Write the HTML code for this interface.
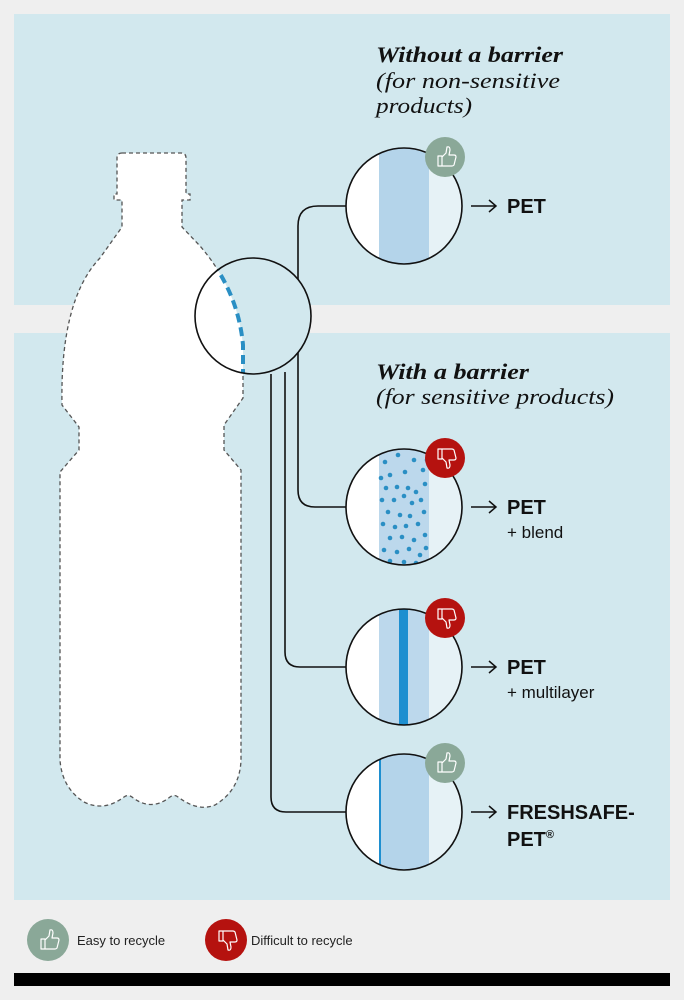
<!DOCTYPE html>
<html><head><meta charset="utf-8"><style>
html,body{margin:0;padding:0;background:#efefef;}
svg{display:block}
.h{font-family:"Liberation Serif",serif;font-style:italic;font-size:22px;fill:#111}
.p{font-family:"Liberation Sans",sans-serif;font-weight:bold;font-size:20px;fill:#111}
.s{font-family:"Liberation Sans",sans-serif;font-size:17px;fill:#111}
.l{font-family:"Liberation Sans",sans-serif;font-size:13px;fill:#222}
</style></head><body>
<svg width="684" height="1000" viewBox="0 0 684 1000" xmlns="http://www.w3.org/2000/svg">
<defs>
<path id="bottle" d="M122,153 H181 Q186,153 186,158 V194 H190 V200 H182 V227 L200,246 Q238,290 243,345 L243,398 L224,425 V450 L241,470 V760 Q240,790 215,805 Q198,812 178,797 Q174,794 170,797 Q151,812 132,797 Q128,794 124,797 Q104,812 84,802 Q62,788 60,760 V472 L79,450 V427 L62,405 Q60,300 100,258 L122,227 V200 H114 V194 H117 V158 Q117,153 122,153 Z"/>
<clipPath id="big"><circle cx="253" cy="316" r="58"/></clipPath>
<clipPath id="c1"><circle cx="404" cy="206" r="58"/></clipPath>
<clipPath id="c2"><circle cx="404" cy="507" r="58"/></clipPath>
<clipPath id="c3"><circle cx="404" cy="667" r="58"/></clipPath>
<clipPath id="c4"><circle cx="404" cy="812" r="58"/></clipPath>
<g id="up"><path d="M-7,-1 h4 v10 h-4 z M-3,0 l4,-4 l1,-6 q3,-1 3,3 l-1,5 h5 q2,0 2,2 l-2,8 q-1,1 -2,1 h-10" fill="none" stroke="#fff" stroke-width="1.2" stroke-linejoin="round"/></g>
<g id="down"><path d="M-7,-9 h4 v10 h-4 z M-3,0 l4,4 l1,6 q3,1 3,-3 l-1,-5 h5 q2,0 2,-2 l-2,-8 q-1,-1 -2,-1 h-10" fill="none" stroke="#fff" stroke-width="1.2" stroke-linejoin="round"/></g>
</defs>
<rect x="14" y="14" width="656" height="291" fill="#d2e8ee"/>
<rect x="14" y="333" width="656" height="567" fill="#d2e8ee"/>
<rect x="14" y="973" width="656" height="13" fill="#000"/>

<use href="#bottle" fill="#fff" stroke="#555" stroke-width="1.3" stroke-dasharray="4,3"/>

<g fill="none" stroke="#111" stroke-width="1.6">
<path d="M298,370 V226 Q298,206 318,206 H346"/>
<path d="M298,370 V490 Q298,507 315,507 H346"/>
<path d="M285,372 V652 Q285,667 300,667 H346"/>
<path d="M271,374 V797 Q271,812 286,812 H346"/>
</g>

<circle cx="253" cy="316" r="58" fill="#d2e8ee"/>
<g clip-path="url(#big)"><use href="#bottle" fill="#fff"/><use href="#bottle" fill="none" stroke="#2a8fc4" stroke-width="4" stroke-dasharray="9,5"/></g>
<circle cx="253" cy="316" r="58" fill="none" stroke="#111" stroke-width="1.6"/>

<g clip-path="url(#c1)"><rect x="340" y="140" width="130" height="130" fill="#fff"/><rect x="379" y="140" width="50" height="130" fill="#b4d4ea"/><rect x="429" y="140" width="40" height="130" fill="#e6f2f6"/></g>
<circle cx="404" cy="206" r="58" fill="none" stroke="#111" stroke-width="1.6"/>

<g clip-path="url(#c2)"><rect x="340" y="440" width="130" height="130" fill="#fff"/><rect x="379" y="440" width="50" height="130" fill="#bcd8ec"/><rect x="429" y="440" width="40" height="130" fill="#e6f2f6"/>
<g fill="#2a8fc4">
<circle cx="385" cy="462" r="2.3"/><circle cx="398" cy="455" r="2.3"/><circle cx="414" cy="460" r="2.3"/><circle cx="423" cy="470" r="2.3"/><circle cx="390" cy="475" r="2.3"/><circle cx="405" cy="472" r="2.3"/><circle cx="386" cy="488" r="2.3"/><circle cx="397" cy="487" r="2.3"/><circle cx="408" cy="488" r="2.3"/><circle cx="416" cy="492" r="2.3"/><circle cx="425" cy="484" r="2.3"/><circle cx="382" cy="500" r="2.3"/><circle cx="394" cy="500" r="2.3"/><circle cx="404" cy="496" r="2.3"/><circle cx="412" cy="503" r="2.3"/><circle cx="421" cy="500" r="2.3"/><circle cx="388" cy="512" r="2.3"/><circle cx="400" cy="515" r="2.3"/><circle cx="410" cy="516" r="2.3"/><circle cx="424" cy="512" r="2.3"/><circle cx="383" cy="524" r="2.3"/><circle cx="395" cy="527" r="2.3"/><circle cx="406" cy="526" r="2.3"/><circle cx="418" cy="524" r="2.3"/><circle cx="390" cy="538" r="2.3"/><circle cx="402" cy="537" r="2.3"/><circle cx="414" cy="540" r="2.3"/><circle cx="425" cy="535" r="2.3"/><circle cx="384" cy="550" r="2.3"/><circle cx="397" cy="552" r="2.3"/><circle cx="409" cy="549" r="2.3"/><circle cx="420" cy="555" r="2.3"/><circle cx="390" cy="561" r="2.3"/><circle cx="404" cy="562" r="2.3"/><circle cx="416" cy="563" r="2.3"/><circle cx="427" cy="460" r="2.3"/><circle cx="381" cy="478" r="2.3"/><circle cx="426" cy="548" r="2.3"/>
</g></g>
<circle cx="404" cy="507" r="58" fill="none" stroke="#111" stroke-width="1.6"/>

<g clip-path="url(#c3)"><rect x="340" y="600" width="130" height="130" fill="#fff"/><rect x="379" y="600" width="50" height="130" fill="#bcd8ec"/><rect x="399" y="600" width="9" height="130" fill="#1e8fd0"/><rect x="429" y="600" width="40" height="130" fill="#e6f2f6"/></g>
<circle cx="404" cy="667" r="58" fill="none" stroke="#111" stroke-width="1.6"/>

<g clip-path="url(#c4)"><rect x="340" y="745" width="130" height="130" fill="#fff"/><rect x="379" y="745" width="50" height="130" fill="#b4d4ea"/><rect x="379" y="745" width="2" height="130" fill="#1e8fd0"/><rect x="429" y="745" width="40" height="130" fill="#e6f2f6"/></g>
<circle cx="404" cy="812" r="58" fill="none" stroke="#111" stroke-width="1.6"/>

<circle cx="445" cy="157" r="20" fill="#8aa898"/><use href="#up" x="445" y="157"/>
<circle cx="445" cy="458" r="20" fill="#b5120f"/><use href="#down" x="445" y="458"/>
<circle cx="445" cy="618" r="20" fill="#b5120f"/><use href="#down" x="445" y="618"/>
<circle cx="445" cy="763" r="20" fill="#8aa898"/><use href="#up" x="445" y="763"/>

<text class="h" x="376" y="62" font-weight="bold" textLength="187" lengthAdjust="spacingAndGlyphs">Without a barrier</text>
<text class="h" x="376" y="88" textLength="184" lengthAdjust="spacingAndGlyphs">(for non-sensitive</text>
<text class="h" x="376" y="113" textLength="96" lengthAdjust="spacingAndGlyphs">products)</text>
<text class="h" x="376" y="379" font-weight="bold" textLength="153" lengthAdjust="spacingAndGlyphs">With a barrier</text>
<text class="h" x="376" y="404" textLength="238" lengthAdjust="spacingAndGlyphs">(for sensitive products)</text>

<g stroke="#111" stroke-width="1.5" fill="none">
<path d="M471,206 H496 M489,200 L496,206 L489,212"/>
<path d="M471,507 H496 M489,501 L496,507 L489,513"/>
<path d="M471,667 H496 M489,661 L496,667 L489,673"/>
<path d="M471,812 H496 M489,806 L496,812 L489,818"/>
</g>
<text class="p" x="507" y="213">PET</text>
<text class="p" x="507" y="514">PET</text>
<text class="s" x="507" y="538">+ blend</text>
<text class="p" x="507" y="674">PET</text>
<text class="s" x="507" y="698">+ multilayer</text>
<text class="p" x="507" y="819">FRESHSAFE-</text>
<text class="p" x="507" y="846">PET<tspan font-size="11" dy="-8">®</tspan></text>

<circle cx="48" cy="940" r="21" fill="#8aa898"/><use href="#up" x="48" y="940"/>
<text class="l" x="77" y="945">Easy to recycle</text>
<circle cx="226" cy="940" r="21" fill="#b5120f"/><use href="#down" x="226" y="940"/>
<text class="l" x="251" y="945">Difficult to recycle</text>
</svg>
</body></html>
